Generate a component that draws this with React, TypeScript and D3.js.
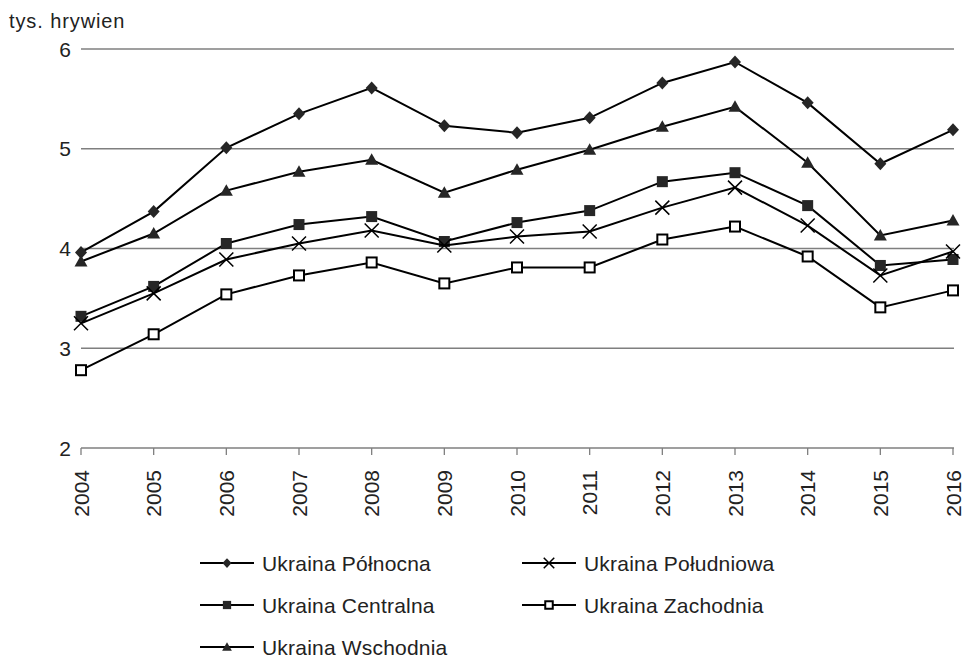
import React from "react";
import * as d3 from "d3";

const years = ["2004","2005","2006","2007","2008","2009","2010","2011","2012","2013","2014","2015","2016"];
const polnocna = [3.96,4.37,5.01,5.35,5.61,5.23,5.16,5.31,5.66,5.87,5.46,4.85,5.19];
const centralna = [3.32,3.62,4.05,4.24,4.32,4.07,4.26,4.38,4.67,4.76,4.43,3.83,3.89];
const wschodnia = [3.87,4.15,4.58,4.77,4.89,4.56,4.79,4.99,5.22,5.42,4.86,4.13,4.28];
const poludniowa = [3.25,3.55,3.89,4.05,4.18,4.03,4.12,4.17,4.41,4.61,4.23,3.73,3.97];
const zachodnia = [2.78,3.14,3.54,3.73,3.86,3.65,3.81,3.81,4.09,4.22,3.92,3.41,3.58];
const yTicks = [2,3,4,5,6];
const yLabel = "tys. hrywien";

type Marker = "diamond" | "square" | "triangle" | "x" | "open";
const series: { name: string; values: number[]; marker: Marker }[] = [
  { name: "Ukraina Północna", values: polnocna, marker: "diamond" },
  { name: "Ukraina Centralna", values: centralna, marker: "square" },
  { name: "Ukraina Wschodnia", values: wschodnia, marker: "triangle" },
  { name: "Ukraina Południowa", values: poludniowa, marker: "x" },
  { name: "Ukraina Zachodnia", values: zachodnia, marker: "open" },
];
const legendOrder = [
  { s: 0, col: 0, row: 0 },
  { s: 3, col: 1, row: 0 },
  { s: 1, col: 0, row: 1 },
  { s: 4, col: 1, row: 1 },
  { s: 2, col: 0, row: 2 },
];

const FILL = "#262626";

function MarkerShape({ type, x, y, k = 1 }: { type: Marker; x: number; y: number; k?: number }) {
  switch (type) {
    case "diamond":
      return <path d={`M${x},${y - 6.5 * k}L${x + 6 * k},${y}L${x},${y + 6.5 * k}L${x - 6 * k},${y}Z`} fill={FILL} />;
    case "square":
      return <rect x={x - 5.5 * k} y={y - 5.5 * k} width={11 * k} height={11 * k} fill={FILL} />;
    case "triangle":
      return <path d={`M${x},${y - 6.5 * k}L${x + 6.5 * k},${y + 5 * k}L${x - 6.5 * k},${y + 5 * k}Z`} fill={FILL} />;
    case "x":
      return <path d={`M${x - 7 * k},${y - 7 * k}L${x + 7 * k},${y + 7 * k}M${x + 7 * k},${y - 7 * k}L${x - 7 * k},${y + 7 * k}`} stroke="#000" strokeWidth={1.5} fill="none" />;
    case "open":
      return <rect x={x - 5 * k} y={y - 5 * k} width={10 * k} height={10 * k} fill="#fff" stroke="#000" strokeWidth={2} />;
  }
}

export default function App() {
  const W = 963, H = 660;
  const x = d3.scalePoint<string>().domain(years).range([81, 953]);
  const y = d3.scaleLinear().domain([2, 6]).range([448, 49]);
  const line = d3.line<number>().x((_, i) => x(years[i])!).y((d) => y(d));
  const font = "'Liberation Sans', Arial, sans-serif";
  const textColor = "#222";

  return (
    <svg width={W} height={H} style={{ position: "absolute", left: 0, top: 0 }} fontFamily={font}>
      <rect width={W} height={H} fill="#fff" />
      <text x={9} y={28} fontSize={20} letterSpacing={0.9} fill={textColor}>{yLabel}</text>
      {yTicks.map((t) => (
        <g key={t}>
          <line x1={81} x2={954} y1={y(t)} y2={y(t)} stroke="#7f7f7f" strokeWidth={1.3} />
          <text x={71} y={y(t)} dy="0.36em" textAnchor="end" fontSize={21} fill={textColor}>{t}</text>
        </g>
      ))}
      {years.map((yr) => (
        <g key={yr}>
          <line x1={x(yr)} x2={x(yr)} y1={448} y2={455} stroke="#7f7f7f" strokeWidth={1.3} />
          <text transform={`translate(${x(yr)! + 7.5},${470}) rotate(-90)`} textAnchor="end" fontSize={21} fill={textColor}>{yr}</text>
        </g>
      ))}
      {series.map((s) => (
        <g key={s.name}>
          <path d={line(s.values)!} fill="none" stroke="#000" strokeWidth={2} />
          {s.values.map((v, i) => (
            <MarkerShape key={i} type={s.marker} x={x(years[i])!} y={y(v)} />
          ))}
        </g>
      ))}
      {legendOrder.map(({ s, col, row }) => {
        const lx = col === 0 ? 200 : 522;
        const ly = 563 + row * 42;
        return (
          <g key={s}>
            <line x1={lx} x2={lx + 54} y1={ly} y2={ly} stroke="#000" strokeWidth={2} />
            <MarkerShape type={series[s].marker} x={lx + 27} y={ly} k={0.75} />
            <text x={lx + 62} y={ly} dy="0.36em" fontSize={21} letterSpacing={0.2} fill={textColor}>{series[s].name}</text>
          </g>
        );
      })}
    </svg>
  );
}
